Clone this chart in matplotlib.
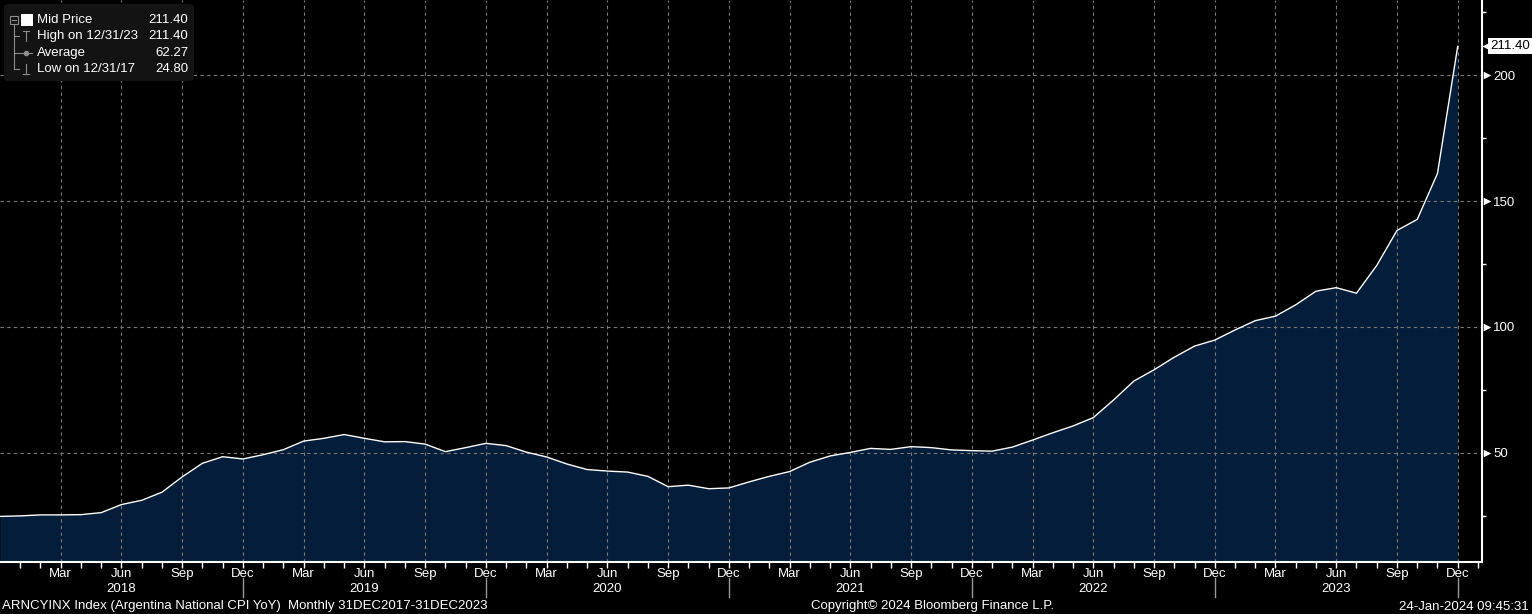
import matplotlib
matplotlib.use("Agg")
import matplotlib.pyplot as plt
from matplotlib.patches import FancyBboxPatch
import matplotlib.transforms as mtransforms
import numpy as np

# Argentina National CPI YoY, monthly Dec 2017 .. Dec 2023
cpi_yoy = [24.8,
           25.0, 25.4, 25.4, 25.5, 26.3, 29.5, 31.2, 34.4, 40.5, 45.9, 48.5, 47.6,
           49.3, 51.3, 54.7, 55.8, 57.3, 55.8, 54.4, 54.5, 53.5, 50.5, 52.1, 53.8,
           52.9, 50.3, 48.4, 45.6, 43.4, 42.8, 42.4, 40.7, 36.6, 37.2, 35.8, 36.1,
           38.5, 40.7, 42.6, 46.3, 48.8, 50.2, 51.8, 51.4, 52.5, 52.1, 51.2, 50.9,
           50.7, 52.3, 55.1, 58.0, 60.7, 64.0, 71.0, 78.5, 83.0, 88.0, 92.4, 94.8,
           98.8, 102.5, 104.3, 108.8, 114.2, 115.6, 113.4, 124.4, 138.3, 142.7, 160.9, 211.4]
quarter_labels = ["Mar", "Jun", "Sep", "Dec"]
years = ["2018", "2019", "2020", "2021", "2022", "2023"]
y_ticks = [50, 100, 150, 200]
legend_rows = [("Mid Price", "211.40"), ("High on 12/31/23", "211.40"),
               ("Average", "62.27"), ("Low on 12/31/17", "24.80")]
footer_left = "ARNCYINX Index (Argentina National CPI YoY)  Monthly 31DEC2017-31DEC2023"
footer_mid = "Copyright\u00a9 2024 Bloomberg Finance L.P."
footer_right = "24-Jan-2024 09:45:31"

W, H = 1532, 614
FILL = "#031d3b"
GRID = "#7a7a7a"
FS = 9.5

plt.rcParams["font.family"] = ["Liberation Sans", "DejaVu Sans"]
fig = plt.figure(figsize=(W / 100, H / 100), dpi=100, facecolor="black")
ax = fig.add_axes([0, 1 - 562 / H, 1482 / W, 562 / H], facecolor="black")

x = np.arange(len(cpi_yoy))
ax.fill_between(x, cpi_yoy, 0, color=FILL, lw=0, zorder=1)
ax.plot(x, cpi_yoy, color="white", lw=1.0, zorder=3)

ax.set_xlim(0, 73.2)
ax.set_ylim(6.7, 229.8)

# x axis: month ticks, quarter labels
ax.set_xticks(np.arange(3, 73, 3))
ax.set_xticklabels([quarter_labels[i % 4] for i in range(24)])
ax.set_xticks(np.arange(1, 74), minor=True)
ax.tick_params(axis="x", which="both", colors="white", direction="out",
               length=4, width=1, labelsize=FS, pad=0.5)

# y axis on the right
ax.yaxis.tick_right()
ax.set_yticks(y_ticks)
ax.set_yticklabels([str(v) for v in y_ticks])
ax.set_yticks(np.arange(25, 226, 25), minor=True)
ax.tick_params(axis="y", which="major", length=0, pad=8, labelsize=FS, colors="white")
ax.tick_params(axis="y", which="minor", length=3, width=1, colors="white", direction="out")

ax.grid(True, which="major", color=GRID, ls=(0, (3, 3)), lw=0.8, zorder=2)

for s in ["left", "top"]:
    ax.spines[s].set_visible(False)
for s in ["right", "bottom"]:
    ax.spines[s].set_color("white")
    ax.spines[s].set_linewidth(1.5)
    ax.spines[s].set_zorder(5)

# triangle markers on the right axis
tr_r = mtransforms.blended_transform_factory(ax.transAxes, ax.transData)
ax.scatter([1.0035] * len(y_ticks), y_ticks, marker=">", s=30, color="white",
           transform=tr_r, clip_on=False, zorder=6, linewidths=0)

# last value tag
last = cpi_yoy[-1]
ax.scatter([1.0035], [last], marker="<", s=55, color="white", transform=tr_r,
           clip_on=False, zorder=6, linewidths=0)
ax.text(1490 / 1482, last, "%.2f" % last, transform=tr_r, ha="left", va="center",
        fontsize=FS, color="black", clip_on=False, zorder=7,
        bbox=dict(boxstyle="square,pad=0.15", fc="white", ec="none"))

# year labels and separators below the axis
tr_x = mtransforms.blended_transform_factory(ax.transData, fig.transFigure)
for i, yr in enumerate(years):
    fig.text(6 + 12 * i, 1 - 589.5 / H, yr, transform=tr_x, ha="center", va="center",
             fontsize=FS, color="white")
for m in range(12, 73, 12):
    fig.add_artist(plt.Line2D([m, m], [1 - 578 / H, 1 - 597 / H], transform=tr_x,
                              color="#9a9a9a", lw=1))

# footer
for xp, txt, ha in [(2, footer_left, "left"), (932, footer_mid, "center"), (1529, footer_right, "right")]:
    fig.text(xp / W, 1 - 606.5 / H, txt, ha=ha, va="center", fontsize=FS, color="white")

# legend box, pixel coordinates from top-left
def px(xp, yp):
    return xp / W, 1 - yp / H

lx, ly = px(4, 81)
fig.add_artist(FancyBboxPatch((lx, ly), 190 / W, 77 / H, boxstyle="round,pad=0,rounding_size=0.004",
                              transform=fig.transFigure, fc="#131313", ec="none", zorder=8))
row_y = [20, 36, 53, 69]
tree = "#8c8c8c"
# collapse box and tree lines
fig.add_artist(plt.Rectangle(px(10, 24), 8 / W, 8 / H, transform=fig.transFigure,
                             fc="none", ec=tree, lw=0.8, zorder=9))
fig.add_artist(plt.Line2D([px(12, 0)[0], px(16, 0)[0]], [px(0, 20)[1]] * 2,
                          transform=fig.transFigure, color=tree, lw=0.8, zorder=9))
fig.add_artist(plt.Line2D([px(14, 0)[0]] * 2, [px(0, 24)[1], px(0, 69)[1]],
                          transform=fig.transFigure, color=tree, lw=0.8, zorder=9))
for yy in row_y[1:]:
    fig.add_artist(plt.Line2D([px(14, 0)[0], px(19, 0)[0]], [px(0, yy)[1]] * 2,
                              transform=fig.transFigure, color=tree, lw=0.8, zorder=9))
fig.add_artist(plt.Rectangle(px(21, 26), 12 / W, 12 / H, transform=fig.transFigure,
                             fc="white", ec="none", zorder=9))
# high / average / low glyphs
cx = px(26, 0)[0]
fig.add_artist(plt.Line2D([cx, cx], [px(0, 31)[1], px(0, 41)[1]], transform=fig.transFigure,
                          color=tree, lw=0.8, zorder=9))
fig.add_artist(plt.Line2D([px(23, 0)[0], px(29, 0)[0]], [px(0, 31)[1]] * 2,
                          transform=fig.transFigure, color=tree, lw=0.8, zorder=9))
fig.add_artist(plt.Line2D([px(20, 0)[0], px(32, 0)[0]], [px(0, 53)[1]] * 2,
                          transform=fig.transFigure, color=tree, lw=0.8, zorder=9))
fig.add_artist(plt.Line2D([cx], [px(0, 53)[1]], transform=fig.transFigure,
                          color=tree, marker="o", ms=3, zorder=9))
fig.add_artist(plt.Line2D([cx, cx], [px(0, 64)[1], px(0, 74)[1]], transform=fig.transFigure,
                          color=tree, lw=0.8, zorder=9))
fig.add_artist(plt.Line2D([px(23, 0)[0], px(29, 0)[0]], [px(0, 74)[1]] * 2,
                          transform=fig.transFigure, color=tree, lw=0.8, zorder=9))
for (lab, val), yy in zip(legend_rows, row_y):
    fig.text(37 / W, 1 - yy / H, lab, ha="left", va="center", fontsize=FS, color="white", zorder=10)
    fig.text(188 / W, 1 - yy / H, val, ha="right", va="center", fontsize=FS, color="white", zorder=10)

fig.savefig("out.png", dpi=100, facecolor="black")
